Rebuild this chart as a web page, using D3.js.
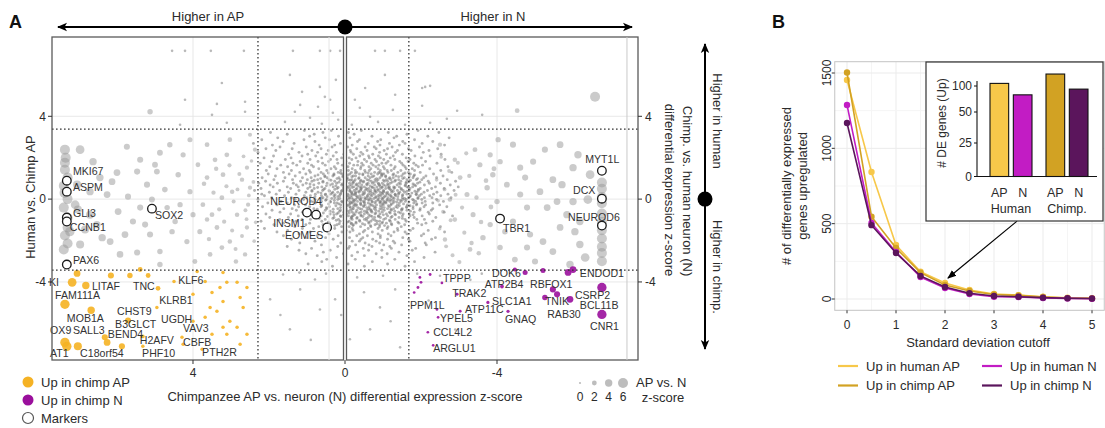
<!DOCTYPE html>
<html><head><meta charset="utf-8">
<script src="https://cdn.jsdelivr.net/npm/d3@7"></script>
<style>
html,body{margin:0;padding:0;background:#fff;}
svg{display:block;font-family:"Liberation Sans",Arial,Helvetica,sans-serif;}
</style></head><body>
<svg id="c" width="1105" height="428"></svg>
<script>
// ---------------- DATA (panel A) ----------------
const xTicksA = [4, 0, -4];
const yTicksA = [4, 0, -4];
const xCutsA = [2.29, -1.68];
const yCutsA = [3.38, -3.43];
const sizeLegendVals = [0, 2, 4, 6];

// gray genes with visible AP-vs-N size [x, y, size]
const grayFan = [
[7.37,2.39,6],[6.97,2.39,5],[7.37,1.76,6],[6.63,1.81,4],[6.45,1.04,4],[6.71,0.36,4],[6.26,0.22,3.5],[6.13,0.84,3.5],[6.0,1.28,3.5],[5.74,2.53,3],[5.47,1.33,3],[5.97,-0.6,3.5],[6.53,-1.23,4],[6.18,-2.05,3.5],[6.39,-1.86,4],[5.79,-1.71,3.5],[5.58,-1.08,3],[5.39,-0.41,3],[5.71,0.12,3],[5.21,0.7,3],[4.95,1.33,2.8],[4.87,2.24,2.8],[5.13,4.22,2.5],[4.68,-0.41,2.5],[5.13,-1.71,3],[5.47,-2.58,3],[4.87,-2.53,2.5],[4.47,-1.08,2.5],[4.39,1.18,2.5],[4.61,2.63,2.5],[4.26,2.14,2.3],[4.08,0.36,2.3],[4.0,-0.75,2.3],[4.16,-2.05,2.3],[3.63,1.04,2],[3.74,-0.27,2],[3.63,2.63,2],[3.37,-1.37,2],[3.21,1.18,2],[3.11,2.14,2],[2.97,0.36,1.8],[3.03,-2.05,1.8],[2.84,-0.75,1.8],[2.58,1.52,1.6],[2.5,0.55,1.6],[2.58,-1.37,1.6],
[7.37,1.42,6],[7.3,1.04,6],[7.4,0.65,6],[7.3,0.0,6],[7.4,-0.41,6],[7.3,-1.37,6],[7.37,-1.76,6],[7.3,-2.14,6],[7.4,-2.43,6],[7.24,-1.57,5.5],[7.1,-0.27,5],[7.03,-0.5,4.5],[6.84,-1.47,4.5],[6.97,-2.19,4.5],[6.71,-0.75,4.5],[7.05,0.7,4.5],[7.35,2.0,6],[7.3,-0.9,6],[7.38,0.3,6],
[3.87,1.66,2],[3.42,1.9,2],[2.71,0.94,1.7],[3.24,0.07,2],[3.5,-0.75,2],[2.55,-0.27,1.6],[3.82,-1.57,2.2],[3.24,-2.34,2],[2.63,-2.67,1.7],[4.34,-0.27,2.4],[4.74,0.46,2.6],[5.08,-0.02,2.8],[5.26,-1.23,3],[5.92,-2.67,3.4],[5.0,1.66,2.8],[5.39,1.9,3],[4.08,2.87,2.2],[3.03,2.87,1.9],[2.37,2.39,1.5],[2.5,3.11,1.5],[4.55,-1.57,2.5],[3.55,-2.67,2],[2.87,-3.01,1.8],[3.95,-3.01,2.1],[4.87,-3.16,2.5],
[2.41,0.83,1.2],[2.62,-0.54,1.3],[2.78,1.21,1.4],[2.35,-1.12,1.1],[2.93,-0.12,1.4],[3.12,0.62,1.5],[2.71,-1.78,1.3],[3.31,-0.49,1.6],[2.46,1.84,1.1],[3.04,1.63,1.5],[2.88,-2.41,1.4],[3.46,0.31,1.6],[2.53,0.18,1.2],[2.67,2.07,1.2],[3.18,-1.09,1.6],[3.58,-1.93,1.7],[3.71,0.74,1.8],[2.39,-2.03,1.1],[2.97,-1.51,1.4],[3.39,1.47,1.7],[2.59,-0.97,1.2],[3.63,-0.98,1.8],[2.83,0.47,1.3],
[-6.13,2.14,4],[-6.0,1.52,4],[-5.47,0.94,3.5],[-4.95,1.81,3],[-4.42,2.63,3],[-5.13,0.36,3.5],[-5.58,-0.12,3.5],[-6.0,-0.12,4],[-6.18,-1.08,4],[-6.05,-1.57,4],[-5.66,-1.37,3.5],[-5.21,-2.05,3.5],[-5.47,-2.53,3.5],[-6.18,-2.19,4],[-5.92,-3.16,4],[-4.79,-2.34,3],[-4.42,-1.08,3],[-4.79,-0.41,3],[-4.0,-0.12,2.5],[-3.74,0.55,2.5],[-3.63,-1.86,2.5],[-4.08,-2.34,2.5],[-3.37,-0.75,2.2],[-3.21,0.22,2.2],[-3.03,1.04,2],[-3.89,1.18,2.5],[-4.26,0.7,2.8],[-5.32,-0.41,3.5],[-5.84,-0.75,4],[-5.71,0.7,4],[-4.61,1.52,3],[-4.08,1.81,2.5],[-3.55,1.66,2.3],
[-6.76,0.8,6],[-6.76,0.5,6],[-6.76,0.1,6],[-6.76,-0.2,6],[-6.76,-0.7,6],[-6.76,-1.1,6],[-6.76,-1.5,6],[-6.76,-1.9,6],[-6.76,-2.3,6],[-6.76,-2.6,6],[-6.76,-3.0,6],[-6.45,1.18,5],[-6.32,-2.82,5],[-6.39,-0.02,5],
[-2.76,-0.02,1.8],[-2.89,-0.99,1.8],[-2.63,-1.95,1.7],[-3.29,-2.43,2],[-3.82,-1.23,2.4],[-4.21,-1.57,2.6],[-4.61,0.22,3],[-4.87,-1.71,3],[-4.47,-2.92,2.8],[-5.0,-3.01,3],[-3.42,2.39,2.1],[-3.82,2.14,2.3],[-2.89,1.9,1.8],[-2.5,2.63,1.6],[-4.03,2.87,2.4],[-5.26,2.39,3],[-5.66,2.63,3.5],[-4.74,1.04,3],
[-2.41,0.93,1.1],[-2.58,-0.61,1.2],[-2.74,1.36,1.3],[-2.49,-1.43,1.1],[-2.91,0.21,1.4],[-3.08,-0.41,1.5],[-2.66,-2.28,1.3],[-3.27,1.12,1.6],[-2.53,2.04,1.1],[-3.14,-1.62,1.5],[-2.83,-2.71,1.4],[-3.46,0.08,1.7],[-2.62,0.47,1.2],[-3.58,-1.11,1.8],[-3.71,0.89,1.9],[-2.97,1.76,1.4],[-3.33,-2.12,1.7],[-3.84,-0.38,2.0],[-2.78,-1.02,1.3],[-3.19,2.21,1.5],[-3.52,-2.61,1.8],[-3.92,1.47,2.1],[-2.45,-0.08,1.1],[-3.01,-3.04,1.5],
[-6.58,4.94,6],[-4.53,4.27,2]
];

// dense central cloud: [y, [x values]]
const cloudRows = [
[3.31,[1.07,-0.43,-1.92,0.36]],[3.22,[0.58,-1.14,1.96,-2.47,-0.09]],[3.13,[-0.24,1.52,-1.63,0.81]],[3.04,[0.93,-0.71,-2.18,0.17,-1.36]],
[2.96,[1.77,-0.13,-1.29,-2.74,0.52]],[2.87,[0.41,-0.94,1.08,-1.83,2.19,-0.38]],[2.78,[-0.33,0.79,-1.52,-2.31,1.63,-0.86]],
[2.69,[0.12,-0.61,1.34,-1.17,-2.03,2.41,-1.58]],[2.61,[-0.19,0.68,-1.43,1.91,-0.92,-2.62,0.27]],[2.52,[0.34,-0.53,1.02,-1.24,-1.96,1.71,-0.07,-0.77]],
[2.43,[0.63,-0.82,-1.67,1.39,-0.31,2.08,-2.44,-1.12]],[2.35,[-0.14,0.87,-1.03,1.82,-1.74,0.44,-2.21,-0.58,-1.38]],[2.26,[0.23,-0.42,1.21,-1.33,-2.06,0.72,2.29,-0.91,-0.16]],
[2.17,[-0.22,0.49,-0.73,1.48,-1.51,0.03,-2.53,0.98,-1.09,-0.47]],[2.08,[0.31,-0.88,1.13,-0.39,-1.84,1.88,0.77,-1.27,-2.24,-0.62]],
[1.99,[-0.11,0.61,-0.64,1.42,-1.19,0.09,-2.01,2.13,-0.29,-1.61,-0.93]],[1.91,[0.38,-0.51,0.92,-1.02,-1.71,1.57,-0.18,0.21,-2.63,-1.31,-0.79]],
[1.82,[-0.34,0.71,-0.83,1.18,-0.02,-1.44,-2.12,1.93,-0.57,0.43,-1.13,-1.66]],[1.73,[0.19,-0.44,0.98,-1.08,-0.12,0.59,-1.81,2.23,-0.69,-2.42,1.37,-0.97,-1.49]],
[1.64,[-0.23,0.52,-0.89,1.27,0.07,-1.53,-0.48,0.88,-2.04,1.69,-1.21,-0.33,-0.74,-1.87]],[1.56,[0.28,-0.63,0.83,-1.32,-0.08,1.51,-1.93,-0.02,-0.81,1.98,-2.71,-1.01,-0.42,-1.58]],
[1.47,[-0.41,0.37,-1.04,1.09,0.02,-1.61,-0.19,0.69,-2.23,1.79,-0.68,-1.29,0.24,-0.87,-1.77]],[1.38,[0.11,-0.52,0.94,-1.22,-0.27,1.41,-1.83,0.48,-0.93,2.07,-2.52,-0.09,-1.47,-0.64,-1.11]],
[1.29,[-0.17,0.63,-0.78,1.19,0.18,-1.39,-0.54,0.91,-1.98,1.62,-1.13,-0.31,0.01,-2.81,-0.89,-1.67]],[1.21,[0.29,-0.69,1.03,-0.98,-0.13,1.47,-1.72,0.57,-0.38,2.02,-2.33,-1.28,0.08,-0.86,-1.53,-0.47,-1.02]],
[1.12,[-0.28,0.53,-1.07,1.31,0.04,-1.49,-0.61,0.79,-2.13,1.83,-0.22,-0.97,0.32,-2.58,-0.76,-1.34,-1.81]],[1.03,[0.16,-0.37,0.89,-1.27,-0.06,1.12,-1.79,0.47,-0.66,2.18,-2.41,-1.18,-0.02,-0.53,1.58,-0.92,-1.56,-2.07]],
[0.94,[-0.09,0.72,-0.87,1.38,0.13,-1.63,-0.27,0.99,-2.02,1.87,-1.09,-0.58,0.42,-2.69,-1.41,-0.18,-0.79,-1.21,-1.88]],[0.86,[0.27,-0.49,1.17,-1.04,-0.03,1.62,-1.68,0.58,-0.83,2.09,-2.19,-1.31,-0.24,0.87,-0.41,-2.91,-0.69,-1.47,-1.12]],
[0.77,[-0.21,0.47,-0.72,1.02,0.22,-1.42,-0.38,1.36,-1.91,1.78,-0.98,-0.12,0.69,-2.51,-1.19,-0.61,2.27,-0.88,-1.61,-2.22]],[0.68,[0.09,-0.58,0.82,-1.14,-0.29,1.28,-1.59,0.39,-0.91,1.97,-2.09,-1.37,0.02,-0.44,1.11,-2.77,-0.78,-1.02,-0.17,-1.83]],
[0.59,[-0.39,0.61,-0.97,1.52,0.03,-1.28,-0.23,0.92,-1.78,1.89,-0.72,-1.17,0.31,-2.38,-0.51,1.23,-1.63,-2.98,-0.06,-0.84,-1.43]],[0.51,[0.21,-0.31,0.98,-0.93,-0.12,1.43,-1.48,0.53,-0.63,2.21,-1.98,-1.07,0.04,-0.77,0.81,-2.61,-1.29,-0.42,-1.71,-0.56,-1.16,-2.28]],
[0.42,[-0.13,0.42,-0.68,1.21,0.08,-1.22,-0.41,0.87,-1.69,1.72,-0.88,-1.38,0.59,-2.17,-0.24,2.38,-1.01,-2.87,-0.53,-0.03,-1.53,-0.79,-1.93]],[0.33,[0.32,-0.48,0.71,-1.01,-0.18,1.49,-1.57,0.19,-0.82,1.99,-2.42,-1.23,-0.01,-0.37,1.03,-1.89,-0.67,-1.12,-0.93,-0.28,-1.44,-2.08]],
[0.24,[-0.27,0.51,-1.12,1.29,0.12,-1.41,-0.62,0.78,-2.01,1.81,-0.19,-0.99,0.38,-2.71,-1.32,-0.49,2.19,-0.77,-1.63,-0.08,-1.87,-2.33]],[0.16,[0.14,-0.39,0.91,-0.87,-0.09,1.07,-1.72,0.62,-0.71,2.12,-2.23,-1.33,0.29,-0.29,1.59,-1.07,-2.52,-0.59,-1.51,-0.16,-0.94,-1.96,-1.21]],
[0.07,[-0.18,0.58,-0.81,1.41,0.01,-1.51,-0.52,1.01,-1.92,1.93,-1.13,-0.32,0.27,-2.29,-0.89,-2.79,-0.66,-1.26,-0.11,-1.67,-0.43,-1.01,-2.09]],[-0.02,[0.19,-0.62,1.09,-1.19,-0.21,1.31,-1.61,0.49,-0.69,2.29,-2.02,-0.99,-0.41,0.79,-1.39,-0.87,-1.78,-0.06,-0.53,-1.11,-2.41,-0.28,-1.52]],
[-0.11,[-0.12,0.39,-1.03,1.18,0.09,-1.29,-0.48,0.89,-2.11,1.68,-0.81,-0.24,0.62,-2.59,-1.48,-0.33,-0.71,-1.18,-1.86,-0.02,-0.94,-1.59]],[-0.19,[0.28,-0.41,0.78,-1.08,-0.19,1.52,-1.81,0.21,-0.92,2.03,-2.31,-1.27,0.02,-0.61,-0.79,-1.43,-2.03,-0.14,-1.02,-0.51]],
[-0.28,[-0.31,0.62,-0.69,1.04,0.11,-1.38,-0.53,1.33,-1.88,1.79,-1.01,-0.09,-2.49,-1.21,-0.83,-1.64,-0.24,-0.42,-2.12]],[-0.37,[0.02,-0.49,0.93,-1.17,-0.22,1.22,-1.62,0.41,-0.78,2.17,-2.08,-0.97,0.63,-2.68,-1.34,-0.64,-0.13,-1.79]],
[-0.46,[-0.22,0.48,-0.92,1.39,0.19,-1.28,-0.39,0.82,-1.79,1.61,-1.12,-0.62,-2.31,-0.77,-1.51,-0.03,-1.98]],[-0.54,[0.12,-0.58,1.01,-1.03,-0.14,1.28,-1.49,0.52,-0.81,1.92,-1.97,-1.22,-0.31,-0.69,-1.63,-2.27]],
[-0.63,[-0.42,0.31,-0.71,1.12,0.03,-1.41,-0.19,0.71,-2.19,1.71,-0.98,-2.61,-0.57,-1.17,-1.82,-0.29]],[-0.72,[0.22,-0.51,0.88,-1.09,-0.23,1.43,-1.69,0.39,-0.79,2.08,-1.31,-0.92,-0.04,-1.53,-2.22]],
[-0.81,[-0.09,0.63,-0.88,1.23,0.12,-1.51,-0.42,1.02,-2.03,-1.12,-2.83,-0.67,-1.71,-0.21]],[-0.89,[0.29,-0.32,0.81,-1.21,-0.61,1.49,-1.82,0.02,-0.93,1.98,-2.39,-1.42,-0.17,-0.78]],
[-0.98,[-0.19,0.52,-1.02,1.13,0.17,-1.32,-0.51,0.91,-2.09,1.72,-0.73,-1.58,-1.89]],[-1.07,[0.13,-0.68,1.29,-0.91,-0.11,0.61,-1.61,-0.39,-2.31,2.21,-1.19,-0.84]],
[-1.16,[-0.29,0.41,-1.09,0.93,0.02,-1.42,-0.63,1.62,-1.91,-0.97,-0.17,-2.13]],[-1.24,[0.21,-0.52,1.03,-0.79,-1.23,0.58,-2.02,-0.22,1.87,-1.57,-0.91]],
[-1.33,[-0.11,0.69,-0.91,1.32,-1.48,0.09,-0.41,-2.51,-1.13,-0.68]],[-1.42,[0.27,-0.61,1.12,-1.11,-0.19,0.83,-1.79,2.12,-1.38,-0.87]],
[-1.51,[-0.21,0.53,-0.98,1.51,-0.52,-1.39,-2.19,-0.03,-1.72]],[-1.59,[0.08,-0.72,0.92,-1.29,-0.13,1.79,-2.62,-0.48,-1.58]],
[-1.68,[-0.38,0.42,-0.87,1.21,-1.63,0.01,-1.14,-2.07]],[-1.77,[0.18,-0.59,0.73,-1.21,-2.01,1.62,-0.31,-0.93]],
[-1.86,[-0.12,0.51,-0.93,1.02,-1.52,-0.47,-2.38]],[-1.94,[0.31,-0.42,-1.12,1.41,-2.28,-0.73,-1.67]],
[-2.03,[-0.19,0.79,-0.82,-1.71,-0.38,-1.27]],[-2.12,[0.11,-0.53,1.19,-1.31,-0.91,-2.11]],[-2.21,[-0.28,0.62,-1.02,-2.14,-0.63,-1.49]],
[-2.29,[0.19,-0.71,1.52,-1.18,-0.12]],[-2.38,[-0.09,-1.22,0.88,-0.48,-1.86]],[-2.47,[0.39,-0.62,-1.77,-0.97,1.21]],
[-2.56,[-0.33,0.57,-1.42,-2.37]],[-2.64,[0.04,-0.82,-1.11,1.03]],[-2.73,[-0.51,0.73,-1.63,-0.18]],[-2.82,[0.22,-0.97,-2.08]],
[-2.91,[-0.27,0.48,-1.31]],[-3.02,[0.61,-0.72,-1.83]],[-3.13,[-0.08,-1.12,0.97]],[-3.24,[0.33,-0.51,-1.58]]
];
// densest core of the cloud: [y, [x values]]
const coreRows = [
[1.26,[0.44,-0.27,-0.93,-1.58,0.12,-0.61]],[1.17,[-0.08,0.71,-1.26,-0.47,-1.83,0.29,-0.96]],[1.08,[0.53,-0.18,-0.72,-1.41,0.06,-1.07,-1.69]],
[0.99,[-0.36,0.21,-0.83,-1.52,0.64,-1.16,-0.04,-1.91]],[0.91,[0.37,-0.42,-1.01,-0.14,-1.72,0.81,-0.63,-1.33]],[0.82,[-0.21,0.16,-0.76,-1.24,0.58,-0.48,-1.61,-0.02,-1.97]],
[0.73,[0.33,-0.31,-0.88,-1.46,0.07,-0.57,-1.12,0.92,-1.79]],[0.64,[-0.12,0.49,-0.66,-1.07,-0.34,-1.58,0.24,-0.91,-1.86,0.03]],[0.56,[0.18,-0.44,-0.98,-1.31,0.72,-0.19,-0.71,-1.67,-0.06,-1.14]],
[0.47,[-0.29,0.27,-0.58,-1.19,-0.86,0.56,-1.48,-0.03,-1.93,-0.42]],[0.38,[0.09,-0.36,-0.79,-1.27,0.41,-0.13,-1.63,-0.62,-1.02,0.87,-1.84]],[0.29,[-0.17,0.34,-0.52,-1.09,-0.73,0.63,-1.41,-0.28,-1.76,0.11,-0.97]],
[0.21,[0.26,-0.23,-0.68,-1.17,-0.46,0.52,-1.52,-0.91,-0.01,-1.88,-1.32]],[0.12,[-0.04,0.47,-0.59,-1.04,-0.33,-1.39,0.19,-0.81,-1.71,0.79,-1.21]],[0.03,[0.14,-0.38,-0.76,-1.29,-0.12,0.62,-1.57,-0.56,-0.97,-1.92,0.35]],
[-0.06,[-0.24,0.28,-0.63,-1.12,-0.87,0.51,-1.46,-0.04,-1.81,-0.41,-1.24]],[-0.14,[0.07,-0.51,-0.92,-1.36,0.38,-0.19,-1.68,-0.72,0.83,-1.07]],[-0.23,[-0.13,0.43,-0.41,-0.98,-1.22,0.16,-0.66,-1.54,-0.27,-1.89]],
[-0.32,[0.24,-0.28,-0.73,-1.14,-0.49,0.61,-1.43,-0.06,-0.93,-1.71]],[-0.41,[-0.34,0.12,-0.57,-1.03,-1.38,0.49,-0.81,-0.14,-1.62]],[-0.49,[0.31,-0.19,-0.66,-1.21,-0.44,0.73,-0.97,-1.49,-0.02]],
[-0.58,[-0.08,0.39,-0.51,-0.89,-1.31,0.14,-0.69,-1.72]],[-0.67,[0.18,-0.37,-0.81,-1.19,0.57,-0.11,-1.46,-0.59]],[-0.76,[-0.26,0.29,-0.63,-1.01,0.04,-1.33,-0.42,-1.79]],
[-0.84,[0.11,-0.47,-0.88,0.46,-0.18,-1.24,-0.71]],[-0.93,[-0.16,0.32,-0.56,-1.07,-0.31,-1.51,0.68]],[-1.02,[0.23,-0.38,-0.79,0.02,-1.17,-0.57]],
[-1.11,[-0.07,0.44,-0.62,-0.99,-0.29,-1.39]],[-1.19,[0.15,-0.46,-0.84,-0.16,-1.22]],[-1.28,[-0.21,0.27,-0.67,-1.04]]
];

// isolated small gray genes [x, y]
const sparseGray = [
[4.55,7.16],[4.21,7.16],[3.53,7.16],[2.66,7.16],[3.24,5.61],[4.21,4.8],[3.37,4.6],[3.5,4.07],[2.63,4.7],[2.63,4.22],[4.34,3.59],[3.11,3.69],[1.37,7.16],[0.66,7.16],[0.39,7.16],[0.13,7.16],[1.45,6.0],[1.13,5.18],[0.66,5.42],[0.53,4.94],[0.39,4.8],[0.71,4.46],[0.32,4.17],[0.92,3.93],[1.32,4.22],[0.18,3.83],[0.61,3.64],[1.58,3.73],[1.18,4.55],[0.24,5.76],[-0.79,7.16],[-1.05,7.16],[-1.45,7.16],[-1.84,7.16],[-2.03,5.37],[-2.11,5.42],[-2.24,5.47],[-1.05,6.0],[-0.53,5.37],[-2.95,4.27],[-3.61,4.07],[-2.68,3.88],[-2.03,4.51],[-1.26,4.31],[-0.66,3.98],[-0.26,4.8],[-0.39,4.41],[-0.87,3.73],[-0.18,3.59],[-1.58,3.59],[-2.24,3.69],[-1.32,5.04],
[1.63,-3.64],[1.18,-4.36],[0.66,-5.33],[1.45,-6.29],[0.26,-4.84],[-0.32,-3.78],[-0.92,-5.23],[-1.45,-7.16],[-0.66,-6.29],[-1.32,-4.36],[0.79,-3.88],[1.97,-4.84],[-0.13,-6.77],[0.5,-3.6],[-1.0,-3.7],[1.2,-3.55],[-0.5,-4.5],[0.9,-6.8],[-1.2,-5.9],[1.7,-5.6],[0.1,-5.6],[-2.5,-3.7],[-3.3,-3.9],[-2.9,-6.3],[-3.6,-3.6],[-2.2,-4.9],[-1.9,-3.6]
];

// Up in chimp AP [x, y, size]
const upChimpAPgenes = [
[7.18,-4.02,5],[7.05,-3.59,3.5],[6.82,-4.17,4],[7.37,-5.08,5.5],[6.68,-5.37,4],[7.37,-6.92,5.5],[7.32,-7.11,5.5],[7.03,-7.11,4.5],[6.32,-6.67,3],[6.26,-6.92,3.5],[5.87,-7.11,3],[6.16,-3.69,3],[5.66,-3.69,2.5],[5.39,-3.4,2],[5.18,-3.69,2],[4.92,-4.31,2],[4.5,-3.98,1],[4.95,-5.23,1],[5.71,-5.86,3],[5.32,-7.11,1],[5.32,-6.63,1.2],[4.29,-6.67,1],[4.26,-7.01,1],
[4.0,-4.6,1],[3.5,-4.51,1],[3.29,-4.27,1],[3.11,-4.02,1],[3.21,-3.54,1],[3.68,-3.98,1],[3.89,-3.49,1],[3.55,-5.23,1],[3.37,-5.42,1],[3.21,-4.94,1],[2.76,-4.75,1],[3.03,-5.9,1],[2.68,-5.23,1],[2.58,-4.27,1],[2.84,-4.02,1],[2.84,-6.19,1],[3.21,-6.19,1],[3.68,-5.71,1],[3.5,-6.53,1],[3.11,-6.53,1],[2.76,-7.01,1],[2.58,-6.53,1],[3.76,-7.25,1],[4.0,-5.9,1]
];
// Up in chimp N [x, y, size]
const upChimpNgenes = [
[-1.97,-3.78,0.5],[-2.0,-4.02,0.5],[-1.92,-4.27,0.5],[-2.95,-4.6,0.6],[-3.76,-4.99,0.8],[-4.29,-5.42,0.8],[-4.13,-4.22,1.2],[-3.03,-5.42,0.6],[-4.47,-3.4,1.5],[-4.74,-3.54,2.2],[-5.21,-3.45,2.2],[-5.47,-4.36,3],[-5.58,-4.6,3],[-5.26,-4.75,2.5],[-5.87,-3.54,3.5],[-6.0,-3.4,3.5],[-5.92,-4.84,3.5],[-6.76,-4.27,5.5],[-6.76,-5.57,5.5],[-2.24,-3.64,0.5],[-2.18,-6.43,0.4],[-2.45,-5.71,0.4],[-2.32,-7.06,0.4],[-2.42,-5.33,0.4],[-1.82,-4.51,0.4],[-2.55,-4.05,0.4]
];
// Marker genes [name, x, y]
const markerGenes = [
["MKI67",7.32,0.89],["ASPM",7.32,0.36],["GLI3",7.32,-0.89],["CCNB1",7.32,-1.08],["PAX6",7.32,-3.16],["SOX2",5.08,-0.46],
["INSM1",1.0,-0.65],["NEUROD4",0.76,-0.75],["EOMES",0.47,-1.37],["TBR1",-4.08,-0.94],["MYT1L",-6.76,1.37],["DCX",-6.76,0.02],["NEUROD6",-6.76,-1.28]
];
// gene label anchor points [text, x, y] (text start, baseline)
const geneLabels = [
["MKI67",7.16,1.18],["ASPM",7.16,0.41],["GLI3",7.16,-0.84],["CCNB1",7.24,-1.52],["PAX6",7.16,-3.11],["SOX2",5.0,-0.94],
["NEUROD4",1.97,-0.27],["INSM1",1.89,-1.37],["EOMES",1.58,-1.95],["TBR1",-4.16,-1.57],["MYT1L",-6.32,1.76],["DCX",-6.0,0.27],["NEUROD6",-5.87,-1.08],
["KI",7.79,-4.22],["LITAF",6.66,-4.41],["FAM111A",7.63,-4.84],["TNC",5.58,-4.41],["KLF6",4.39,-4.12],["KLRB1",4.89,-5.08],["CHST9",6.0,-5.6],["MOB1A",7.32,-5.95],["B3GLCT",6.05,-6.24],["UGDH",4.84,-6.0],["OX9",7.76,-6.53],["SALL3",7.16,-6.53],["BEND4",6.24,-6.72],["VAV3",4.26,-6.43],["H2AFV",5.4,-6.98],["CBFB",4.26,-7.11],["AT1",7.76,-7.64],["C18orf54",6.97,-7.64],["PHF10",5.34,-7.64],["PTH2R",3.76,-7.59],
["TPPP",-2.58,-4.02],["DOK6",-3.87,-3.78],["ATP2B4",-3.68,-4.31],["RBFOX1",-4.87,-4.31],["ENDOD1",-6.18,-3.78],["TRAK2",-2.82,-4.75],["PPM1L",-1.71,-5.33],["ATP11C",-3.16,-5.52],["SLC1A1",-3.87,-5.1],["TNIK",-5.26,-5.13],["CSRP2",-6.05,-4.84],["BCL11B",-6.18,-5.33],["RAB30",-5.32,-5.76],["GNAQ",-4.21,-5.98],["YPEL5",-2.5,-5.95],["CCL4L2",-2.32,-6.63],["ARGLU1",-2.32,-7.4],["CNR1",-6.45,-6.34]
];

// ---------------- DATA (panel B) ----------------
const cutoffs = [0,0.5,1,1.5,2,2.5,3,3.5,4,4.5,5];
const upHumanAP = [1454,843,358,181,106,60,33,26,15,8,5];
const upChimpAP = [1503,546,338,175,93,53,30,24,13,6,4];
const upHumanN  = [1288,505,312,146,73,33,15,13,7,4,2];
const upChimpN  = [1168,490,305,153,80,38,20,15,9,5,3];
const seriesNames = ["Up in human AP","Up in chimp AP","Up in human N","Up in chimp N"];
const xTicksB = [0,1,2,3,4,5];
const yTicksB = [0,500,1000,1500];
const insetSpecies = ["Human","Chimp."];
const insetCells = ["AP","N"];
const deGenesHuman = [105,83];
const deGenesChimp = [123,94];
const insetTicks = [0,25,50,100];
const arrowFromB = [3.47,517];
const arrowToB = [2.06,139];

// ---------------- STYLE ----------------
const cOrange = "#F5B224", cPurple = "#9A0F9C";
const cHumanAP = "#F7C84A", cChimpAP = "#D2A223", cHumanN = "#C21CC4", cChimpN = "#5B155C";
const txt = "#2b2b2b";

const svg = d3.select("#c");
const defs = svg.append("defs");
defs.append("marker").attr("id","ah").attr("viewBox","0 -5 10 10").attr("refX",9).attr("refY",0)
  .attr("markerWidth",5).attr("markerHeight",5).attr("orient","auto-start-reverse").attr("markerUnits","strokeWidth")
  .append("path").attr("d","M0,-4.2L10,0L0,4.2L2.5,0Z").attr("fill","#000");
defs.append("marker").attr("id","ah2").attr("viewBox","0 -5 10 10").attr("refX",9).attr("refY",0)
  .attr("markerWidth",9).attr("markerHeight",9).attr("orient","auto").attr("markerUnits","userSpaceOnUse")
  .append("path").attr("d","M0,-4L10,0L0,4Z").attr("fill","#000");
defs.append("clipPath").attr("id","clipA").append("rect").attr("x",52).attr("y",37).attr("width",586).attr("height",323);

// ================= PANEL A =================
const xA = d3.scaleLinear().domain([7.71,-7.71]).range([52,638]);
const yA = d3.scaleLinear().domain([-7.77,7.83]).range([360,37]);
const rA = d3.scaleLinear().domain([0,6]).range([1.1,5]);
const A = svg.append("g");

const grid = A.append("g");
xTicksA.filter(v=>v!==0).forEach(v=>grid.append("line").attr("x1",xA(v)).attr("x2",xA(v)).attr("y1",37).attr("y2",360).attr("stroke","#e2e2e2").attr("stroke-width",0.8));
yTicksA.forEach(v=>grid.append("line").attr("x1",52).attr("x2",638).attr("y1",yA(v)).attr("y2",yA(v)).attr("stroke","#e2e2e2").attr("stroke-width",0.8));

const pts = A.append("g").attr("clip-path","url(#clipA)");
const cloudPts = [];
cloudRows.forEach(([y,xs])=>xs.forEach(x=>cloudPts.push([x,y])));
coreRows.forEach(([y,xs])=>xs.forEach(x=>cloudPts.push([x,y])));
pts.selectAll(".cl").data(cloudPts).join("circle").attr("cx",d=>xA(d[0])).attr("cy",d=>yA(d[1])).attr("r",1.45)
  .attr("fill","#757575").attr("fill-opacity",0.55);
pts.selectAll(".sg").data(sparseGray).join("circle").attr("cx",d=>xA(d[0])).attr("cy",d=>yA(d[1])).attr("r",rA(0.3))
  .attr("fill","#8a8a8a").attr("fill-opacity",0.6);
pts.selectAll(".gf").data(grayFan).join("circle").attr("cx",d=>xA(d[0])).attr("cy",d=>yA(d[1])).attr("r",d=>rA(d[2]))
  .attr("fill","#989898").attr("fill-opacity",0.5);

xCutsA.forEach(v=>A.append("line").attr("x1",xA(v)).attr("x2",xA(v)).attr("y1",37).attr("y2",360).attr("stroke","#333").attr("stroke-width",1.3).attr("stroke-dasharray","1.6,2.4"));
yCutsA.forEach(v=>A.append("line").attr("x1",52).attr("x2",638).attr("y1",yA(v)).attr("y2",yA(v)).attr("stroke","#333").attr("stroke-width",1.3).attr("stroke-dasharray","1.6,2.4"));

pts.selectAll(".or").data(upChimpAPgenes).join("circle").attr("cx",d=>xA(d[0])).attr("cy",d=>yA(d[1])).attr("r",d=>rA(d[2]))
  .attr("fill",cOrange).attr("fill-opacity",0.9);
pts.selectAll(".pu").data(upChimpNgenes).join("circle").attr("cx",d=>xA(d[0])).attr("cy",d=>yA(d[1])).attr("r",d=>rA(d[2]))
  .attr("fill",cPurple).attr("fill-opacity",0.9);
pts.selectAll(".mk").data(markerGenes).join("circle").attr("cx",d=>xA(d[1])).attr("cy",d=>yA(d[2])).attr("r",4.3)
  .attr("fill","#fff").attr("stroke","#1a1a1a").attr("stroke-width",1.3);

A.append("g").selectAll("text").data(geneLabels).join("text")
  .attr("x",d=>xA(d[1])).attr("y",d=>yA(d[2])).text(d=>d[0])
  .attr("font-size",10.6).attr("fill","#333");

A.append("rect").attr("x",xA(0)-1.5).attr("y",37).attr("width",3).attr("height",323).attr("fill","#fff");
A.append("rect").attr("x",52).attr("y",37).attr("width",xA(0)-1.5-52).attr("height",323).attr("fill","none").attr("stroke","#5a5a5a").attr("stroke-width",1.3);
A.append("rect").attr("x",xA(0)+1.5).attr("y",37).attr("width",638-xA(0)-1.5).attr("height",323).attr("fill","none").attr("stroke","#5a5a5a").attr("stroke-width",1.3);
A.append("line").attr("x1",xA(-7.42)).attr("x2",xA(-7.42)).attr("y1",37).attr("y2",360).attr("stroke","#c9c9c9").attr("stroke-width",1);
A.append("line").attr("x1",xA(0.42)).attr("x2",xA(0.42)).attr("y1",37).attr("y2",360).attr("stroke","#e6e6e6").attr("stroke-width",1);

const fmt = v => v===0 ? "0" : (v>0 ? String(v) : "-"+Math.abs(v));
yTicksA.forEach(v=>{
  A.append("line").attr("x1",48).attr("x2",52).attr("y1",yA(v)).attr("y2",yA(v)).attr("stroke","#333");
  A.append("text").attr("x",46).attr("y",yA(v)).attr("dy","0.35em").attr("text-anchor","end").attr("font-size",12).attr("fill",txt).text(fmt(v));
  A.append("line").attr("x1",638).attr("x2",642).attr("y1",yA(v)).attr("y2",yA(v)).attr("stroke","#333");
  A.append("text").attr("x",645).attr("y",yA(v)).attr("dy","0.35em").attr("text-anchor","start").attr("font-size",12).attr("fill",txt).text(fmt(v));
});
xTicksA.forEach(v=>{
  A.append("line").attr("x1",xA(v)).attr("x2",xA(v)).attr("y1",360).attr("y2",364).attr("stroke","#333");
  A.append("text").attr("x",xA(v)).attr("y",377).attr("text-anchor","middle").attr("font-size",12).attr("fill",txt).text(fmt(v));
});

A.append("text").attr("transform","translate(35,197) rotate(-90)").attr("text-anchor","middle").attr("font-size",13).attr("fill",txt).text("Human vs. Chimp AP");
A.append("text").attr("x",345).attr("y",401).attr("text-anchor","middle").attr("font-size",13).attr("fill",txt).text("Chimpanzee AP vs. neuron (N) differential expression z-score");
A.append("text").attr("transform","translate(683,191) rotate(90)").attr("text-anchor","middle").attr("font-size",13).attr("fill",txt).text("Chimp. vs. human neuron (N)");
A.append("text").attr("transform","translate(665,190) rotate(90)").attr("text-anchor","middle").attr("font-size",13).attr("fill",txt).text("differential expression z-score");

A.append("line").attr("x1",58).attr("x2",632).attr("y1",27).attr("y2",27).attr("stroke","#000").attr("stroke-width",2)
  .attr("marker-start","url(#ah)").attr("marker-end","url(#ah)");
A.append("circle").attr("cx",xA(0)).attr("cy",27).attr("r",7.5).attr("fill","#000");
A.append("text").attr("x",208).attr("y",21).attr("text-anchor","middle").attr("font-size",13).attr("fill",txt).text("Higher in AP");
A.append("text").attr("x",493).attr("y",21).attr("text-anchor","middle").attr("font-size",13).attr("fill",txt).text("Higher in N");
A.append("line").attr("x1",705).attr("x2",705).attr("y1",44).attr("y2",349).attr("stroke","#000").attr("stroke-width",2)
  .attr("marker-start","url(#ah)").attr("marker-end","url(#ah)");
A.append("circle").attr("cx",705).attr("cy",yA(0)).attr("r",7.5).attr("fill","#000");
A.append("text").attr("transform","translate(713,121) rotate(90)").attr("text-anchor","middle").attr("font-size",13).attr("fill",txt).text("Higher in human");
A.append("text").attr("transform","translate(713,267) rotate(90)").attr("text-anchor","middle").attr("font-size",13).attr("fill",txt).text("Higher in chimp.");

svg.append("text").attr("x",9).attr("y",28).attr("font-size",18).attr("font-weight","bold").attr("fill","#111").text("A");
svg.append("text").attr("x",772).attr("y",28).attr("font-size",18).attr("font-weight","bold").attr("fill","#111").text("B");

const legA = [["Up in chimp AP",cOrange,"none"],["Up in chimp N",cPurple,"none"],["Markers","#fff","#555"]];
legA.forEach((d,i)=>{
  A.append("circle").attr("cx",28).attr("cy",382+i*18).attr("r",5.5).attr("fill",d[1]).attr("stroke",d[2]).attr("stroke-width",1.2);
  A.append("text").attr("x",41).attr("y",382+i*18).attr("dy","0.36em").attr("font-size",13).attr("fill",txt).text(d[0]);
});
const sizeLegX = d3.scalePoint().domain(sizeLegendVals).range([580,623]);
sizeLegendVals.forEach(v=>{
  A.append("circle").attr("cx",sizeLegX(v)).attr("cy",383).attr("r",rA(v)).attr("fill","#bdbdbd");
  A.append("text").attr("x",sizeLegX(v)).attr("y",401).attr("text-anchor","middle").attr("font-size",12).attr("fill",txt).text(v);
});
A.append("text").attr("x",636).attr("y",387).attr("font-size",13).attr("fill",txt).text("AP vs. N");
A.append("text").attr("x",663).attr("y",402).attr("text-anchor","middle").attr("font-size",13).attr("fill",txt).text("z-score");

// ================= PANEL B =================
const xB = d3.scaleLinear().domain([0,5]).range([847,1092]);
const yB = d3.scaleLinear().domain([0,1500]).range([299,73]);
const B = svg.append("g");
const pL = xB(-0.25), pR = xB(5.25), pT = yB(1575), pBm = yB(-75);
B.append("rect").attr("x",pL).attr("y",pT).attr("width",pR-pL).attr("height",pBm-pT).attr("fill","#fff");
d3.range(0,5.01,0.5).forEach(v=>B.append("line").attr("x1",xB(v)).attr("x2",xB(v)).attr("y1",pT).attr("y2",pBm).attr("stroke",Number.isInteger(v)?"#ebebeb":"#f5f5f5"));
d3.range(0,1501,250).forEach(v=>B.append("line").attr("x1",pL).attr("x2",pR).attr("y1",yB(v)).attr("y2",yB(v)).attr("stroke",v%500===0?"#ebebeb":"#f5f5f5"));
B.append("rect").attr("x",pL).attr("y",pT).attr("width",pR-pL).attr("height",pBm-pT).attr("fill","none").attr("stroke","#c4c4c4");

const series = [[upHumanAP,cHumanAP],[upChimpAP,cChimpAP],[upHumanN,cHumanN],[upChimpN,cChimpN]];
const line = d3.line().x((d,i)=>xB(cutoffs[i])).y(d=>yB(d));
series.forEach(([vals,col])=>{
  B.append("path").attr("d",line(vals)).attr("fill","none").attr("stroke",col).attr("stroke-width",1.6);
  B.selectAll(null).data(vals).join("circle").attr("cx",(d,i)=>xB(cutoffs[i])).attr("cy",d=>yB(d)).attr("r",3.2).attr("fill",col);
});

yTicksB.forEach(v=>{
  B.append("line").attr("x1",pL-3).attr("x2",pL).attr("y1",yB(v)).attr("y2",yB(v)).attr("stroke","#333");
  B.append("text").attr("transform",`translate(${pL-3.5},${yB(v)}) rotate(-90)`).attr("text-anchor","middle").attr("font-size",12).attr("fill",txt).text(v);
});
xTicksB.forEach(v=>{
  B.append("line").attr("x1",xB(v)).attr("x2",xB(v)).attr("y1",pBm).attr("y2",pBm+3).attr("stroke","#333");
  B.append("text").attr("x",xB(v)).attr("y",pBm+19).attr("text-anchor","middle").attr("font-size",12).attr("fill",txt).text(v);
});
B.append("text").attr("x",978).attr("y",347).attr("text-anchor","middle").attr("font-size",13).attr("fill",txt).text("Standard deviation cutoff");
B.append("text").attr("transform","translate(791,186) rotate(-90)").attr("text-anchor","middle").attr("font-size",13).attr("fill",txt).text("# of differentially expressed");
B.append("text").attr("transform","translate(807,186) rotate(-90)").attr("text-anchor","middle").attr("font-size",13).attr("fill",txt).text("genes upregulated");

B.append("line").attr("x1",xB(arrowFromB[0])).attr("y1",yB(arrowFromB[1])).attr("x2",xB(arrowToB[0])).attr("y2",yB(arrowToB[1]))
  .attr("stroke","#000").attr("stroke-width",1.2).attr("marker-end","url(#ah2)");

const I = B.append("g");
I.append("rect").attr("x",926).attr("y",62).attr("width",177).attr("height",159).attr("fill","#fff").attr("stroke","#333").attr("stroke-width",1.2);
const yI = d3.scaleLinear().domain(insetTicks).range([176.5,143,112,86]);
const xG = d3.scaleBand().domain(insetSpecies).range([983,1095]);
const xC = d3.scaleBand().domain(insetCells).range([0,xG.bandwidth()]).paddingInner(0.2).paddingOuter(0.3);
const barData = [["Human","AP",deGenesHuman[0],cHumanAP],["Human","N",deGenesHuman[1],cHumanN],["Chimp.","AP",deGenesChimp[0],cChimpAP],["Chimp.","N",deGenesChimp[1],cChimpN]];
I.selectAll(".bar").data(barData).join("rect")
  .attr("x",d=>xG(d[0])+xC(d[1])).attr("width",xC.bandwidth())
  .attr("y",d=>yI(d[2])).attr("height",d=>yI(0)-yI(d[2]))
  .attr("fill",d=>d[3]).attr("stroke","#111").attr("stroke-width",1.1);
I.append("line").attr("x1",977).attr("x2",977).attr("y1",81).attr("y2",yI(0)).attr("stroke","#111").attr("stroke-width",1.1);
I.append("line").attr("x1",977).attr("x2",1097).attr("y1",yI(0)).attr("y2",yI(0)).attr("stroke","#111").attr("stroke-width",1.1);
insetTicks.forEach(v=>{
  I.append("line").attr("x1",974).attr("x2",977).attr("y1",yI(v)).attr("y2",yI(v)).attr("stroke","#111");
  I.append("text").attr("x",972).attr("y",yI(v)).attr("dy","0.35em").attr("text-anchor","end").attr("font-size",12).attr("fill",txt).text(v);
});
I.append("text").attr("transform","translate(946,123) rotate(-90)").attr("text-anchor","middle").attr("font-size",12).attr("fill",txt).text("# DE genes (Up)");
barData.forEach(d=>I.append("text").attr("x",xG(d[0])+xC(d[1])+xC.bandwidth()/2).attr("y",197).attr("text-anchor","middle").attr("font-size",12.5).attr("fill",txt).text(d[1]));
insetSpecies.forEach(s=>I.append("text").attr("x",xG(s)+xG.bandwidth()/2).attr("y",213).attr("text-anchor","middle").attr("font-size",12.5).attr("fill",txt).text(s));

const legCols = [[838,866],[982,1010]];
const legOrder = [[0,0,0],[1,0,1],[2,1,0],[3,1,1]];
legOrder.forEach(([si,c,r])=>{
  const yy = 366 + r*19.5;
  B.append("line").attr("x1",legCols[c][0]).attr("x2",legCols[c][0]+20).attr("y1",yy).attr("y2",yy).attr("stroke",series[si][1]).attr("stroke-width",2.2);
  B.append("text").attr("x",legCols[c][1]).attr("y",yy).attr("dy","0.36em").attr("font-size",13).attr("fill",txt).text(seriesNames[si]);
});
</script></body></html>
